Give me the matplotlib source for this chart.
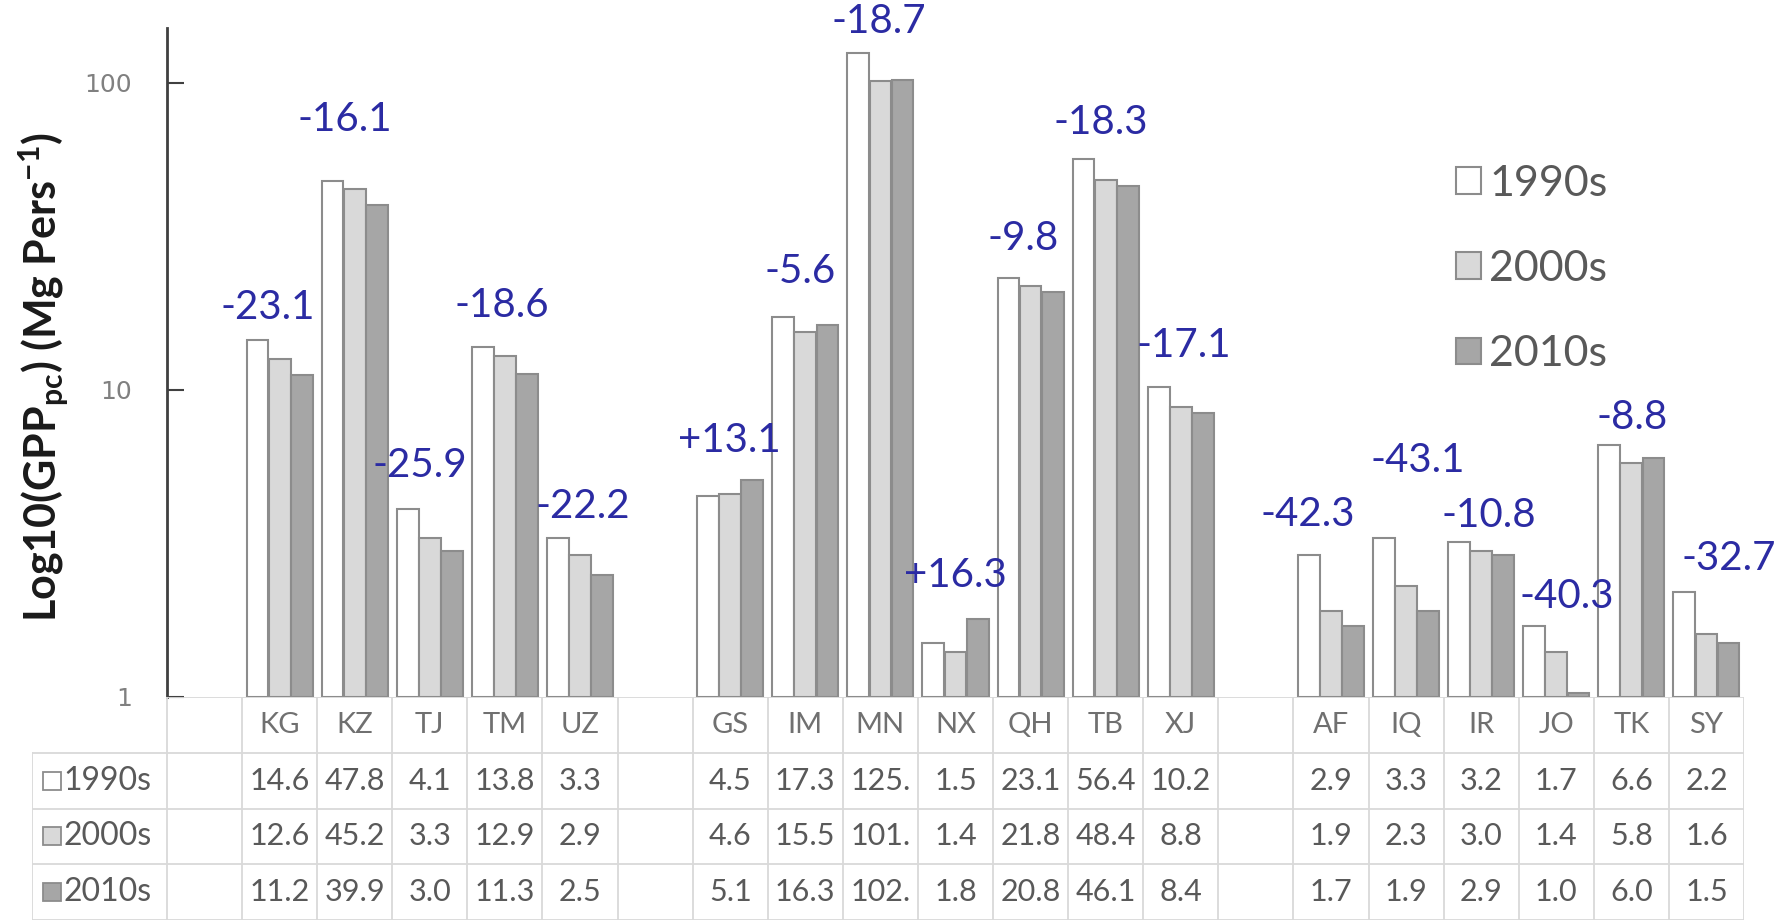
import numpy as np
import matplotlib.pyplot as plt

plt.rcParams['font.family'] = ['Lato', 'DejaVu Sans']

# regions, each starts with an empty slot
groups = [['KG', 'KZ', 'TJ', 'TM', 'UZ'],
          ['GS', 'IM', 'MN', 'NX', 'QH', 'TB', 'XJ'],
          ['AF', 'IQ', 'IR', 'JO', 'TK', 'SY']]

gpp_1990s = [14.6, 47.8, 4.1, 13.8, 3.3, 4.5, 17.3, 125.3, 1.5, 23.1, 56.4, 10.2, 2.9, 3.3, 3.2, 1.7, 6.6, 2.2]
gpp_2000s = [12.6, 45.2, 3.3, 12.9, 2.9, 4.6, 15.5, 101.2, 1.4, 21.8, 48.4, 8.8, 1.9, 2.3, 3.0, 1.4, 5.8, 1.6]
gpp_2010s = [11.2, 39.9, 3.0, 11.3, 2.5, 5.1, 16.3, 102.4, 1.8, 20.8, 46.1, 8.4, 1.7, 1.9, 2.9, 1.03, 6.0, 1.5]
change = ['-23.1', '-16.1', '-25.9', '-18.6', '-22.2', '+13.1', '-5.6', '-18.7', '+16.3',
          '-9.8', '-18.3', '-17.1', '-42.3', '-43.1', '-10.8', '-40.3', '-8.8', '-32.7']
decades = ['1990s', '2000s', '2010s']

# label nudges in pixels (dx, dy above tallest bar)
lab_dx = [-12, -10, -10, -3, 3, -1, -5, -2, 0, -7, -5, 3, -23, 12, 8, 10, 1, 22]
lab_dy = [32, 62, 43, 42, 31, 39, 45, 31, 43, 40, 37, 42, 41, 77, 26, 30, 28, 33]

slots = []
for g in groups:
    slots.append('')
    slots.extend(g)
nslot = len(slots)
xpos = np.array([i for i, s in enumerate(slots) if s])

W, H = 1780, 923
fig = plt.figure(figsize=(W / 100, H / 100), dpi=100)
ax_l, ax_r, ax_t, ax_b = 167, 1744, 28, 697
ax = fig.add_axes([ax_l / W, 1 - ax_b / H, (ax_r - ax_l) / W, (ax_b - ax_t) / H])

fills = ['white', '#d9d9d9', '#a6a6a6']
series = [gpp_1990s, gpp_2000s, gpp_2010s]
bw = 0.29
bars = []
for k, (vals, fc) in enumerate(zip(series, fills)):
    b = ax.bar(xpos + (k - 1) * 0.295, np.array(vals) - 1, bottom=1, width=bw,
               color=fc, edgecolor='#8c8c8c', linewidth=1.5, label=decades[k])
    bars.append(b)

ax.set_yscale('log')
ax.set_ylim(1, 151)
ax.set_xlim(-0.5, nslot - 0.5)
ax.set_yticks([1, 10, 100])
ax.set_yticklabels(['1', '10', '100'], family='DejaVu Sans', fontsize=18, color='#808080')
ax.minorticks_off()
ax.tick_params(axis='y', direction='in', length=12, width=1.5, color='#404040', pad=25)
ax.set_xticks([])
for s in ['top', 'right', 'bottom']:
    ax.spines[s].set_visible(False)
ax.spines['left'].set_color('#404040')
ax.spines['left'].set_linewidth(2)

tops = np.max(np.array(series), axis=0)
for x, t, txt, dx, dy in zip(xpos, tops, change, lab_dx, lab_dy):
    ax.annotate(txt, (x, t), xytext=(dx * 0.72, dy * 0.72), textcoords='offset points',
                ha='center', va='center', fontsize=29, color='#2b2ba3')

ax.legend(handles=bars, loc='upper left', bbox_to_anchor=(1434 / W, 1 - 143 / H),
          bbox_transform=fig.transFigure, frameon=False, fontsize=31,
          handlelength=0.58, handleheight=0.58, handletextpad=0.2, labelspacing=1.1,
          borderpad=0, labelcolor='#595959')

# data table below the bars
tb_l, tb_b = 32, 920
slot_px = (ax_r - ax_l) / nslot
lab_w = (ax_l - tb_l) / slot_px
tax = fig.add_axes([tb_l / W, 1 - tb_b / H, (ax_r - tb_l) / W, (tb_b - ax_b) / H])
tax.set_xlim(-0.5 - lab_w, nslot - 0.5)
tax.set_ylim(4, 0)
tax.axis('off')

grid = '#d9d9d9'
tax.plot([-0.5, nslot - 0.5], [0, 0], color=grid, lw=1.3)
for r in range(1, 5):
    tax.plot([-0.5 - lab_w, nslot - 0.5], [r, r], color=grid, lw=1.3)
tax.plot([-0.5 - lab_w] * 2, [1, 4], color=grid, lw=1.3)
for k in range(nslot + 1):
    tax.plot([k - 0.5] * 2, [0, 4], color=grid, lw=1.3)

tcol = '#595959'
for x, name in zip(xpos, [c for g in groups for c in g]):
    tax.text(x, 0.5, name, ha='center', va='center', fontsize=21, color='#707070')
for r, (vals, fc) in enumerate(zip(series, fills)):
    y = r + 1.5
    tax.plot(-0.5 - lab_w + 0.27, y, marker='s', ms=13, mfc=fc, mec='#8c8c8c', mew=1.3)
    tax.text(-0.5 - lab_w + 0.42, y, decades[r], ha='left', va='center', fontsize=23, color=tcol)
    for x, v in zip(xpos, vals):
        tax.text(x, y, f'{v:.1f}'[:4], ha='center', va='center', fontsize=22, color=tcol)

fig.text(44 / W, 1 - 377 / H, r'Log10(GPP$_{\mathregular{pc}}$) (Mg Pers$^{\mathregular{-1}}$)',
         rotation=90, ha='center', va='center', fontsize=31, fontweight='bold', color='#1a1a1a')

fig.savefig('out.png', dpi=100)
